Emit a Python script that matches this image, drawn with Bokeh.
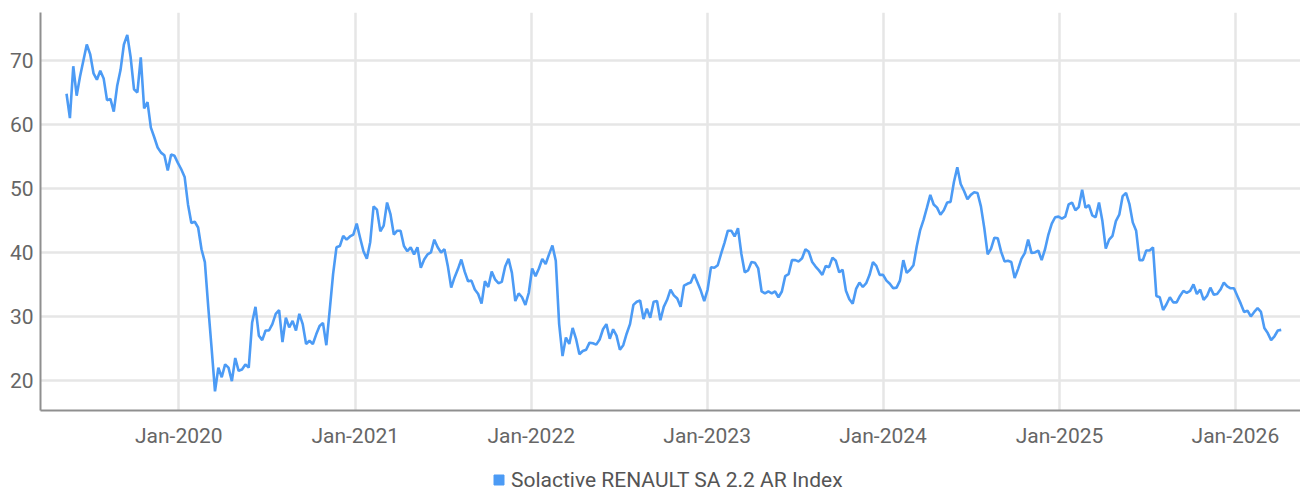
import pandas as pd
from bokeh.plotting import figure
from bokeh.layouts import column
from bokeh.models import (FixedTicker, DatetimeTickFormatter, Legend, LegendItem,
                          Range1d)
from bokeh.embed import file_html
from bokeh.resources import INLINE

SERIES_NAME = "Solactive RENAULT SA 2.2 AR Index"
START_DATE = "2019-05-13"   # first weekly observation

# weekly index levels
values_2019_20 = [
    64.8, 61.0, 69.1, 64.5, 67.5, 70.0, 72.5, 71.0, 68.0, 67.0,
    68.4, 67.2, 63.8, 64.0, 62.0, 66.0, 68.5, 72.5, 74.0, 70.5,
    65.5, 65.0, 70.5, 62.5, 63.5, 59.5, 58.0, 56.4, 55.6, 55.2,
    52.8, 55.3, 55.1, 54.0, 53.0, 51.8, 47.5, 44.6, 44.8, 43.9,
    40.5, 38.5, 31.5, 25.0, 18.3, 22.0, 20.5, 22.5, 22.0, 19.9,
    23.5, 21.5, 21.7, 22.5, 22.0, 29.0, 31.5, 27.0, 26.3, 27.8,
]
values_2020_21 = [
    27.8, 28.8, 30.4, 31.0, 26.0, 29.8, 28.3, 29.3, 27.8, 30.4,
    28.8, 25.7, 26.2, 25.7, 27.2, 28.5, 29.0, 25.5, 31.0, 36.6,
    40.8, 41.0, 42.6, 42.0, 42.5, 42.8, 44.5, 42.3, 40.2, 39.0,
    41.6, 47.2, 46.7, 43.3, 44.2, 47.8, 46.0, 42.8, 43.4, 43.4,
    41.0, 40.2, 40.8, 39.7, 40.8, 37.6, 38.9, 39.7, 40.0, 42.0,
    40.8, 40.0, 40.5, 37.9, 34.5, 36.1, 37.4, 38.9, 37.0, 35.5,
]
values_2021_22 = [
    35.6, 34.2, 33.5, 32.0, 35.5, 34.6, 37.0, 35.8, 35.2, 35.4,
    37.8, 39.0, 36.8, 32.4, 33.6, 33.0, 31.8, 33.7, 37.5, 36.3,
    37.5, 39.0, 38.2, 39.7, 41.1, 38.7, 28.8, 23.8, 26.7, 25.7,
    28.2, 26.5, 24.1, 24.6, 24.8, 25.9, 25.8, 25.6, 26.4, 28.0,
    28.8, 26.5, 28.0, 27.0, 24.8, 25.5, 27.3, 28.8, 31.8, 32.3,
    32.5, 29.6, 31.2, 29.8, 32.3, 32.4, 29.4, 31.5, 32.6, 34.2,
    33.3,
]
values_2022_23 = [
    32.8, 31.5, 34.8, 35.1, 35.3, 36.6, 35.3, 34.0, 32.4, 34.2,
    37.7, 37.6, 38.0, 39.8, 41.5, 43.4, 43.4, 42.5, 43.8, 39.8,
    36.9, 37.2, 38.5, 38.4, 37.5, 33.9, 33.6, 33.9, 33.6, 33.9,
    33.0, 33.9, 36.3, 36.6, 38.8, 38.8, 38.6, 39.1, 40.5, 40.1,
    38.5, 37.8, 37.2, 36.5, 37.9, 37.7, 39.2, 38.7, 36.9, 37.3,
    34.0, 32.7, 32.0, 34.3, 35.3, 34.6, 35.2, 36.5, 38.5, 37.9,
    36.5,
]
values_2024_25 = [
    36.5, 35.6, 35.1, 34.4, 34.5, 35.6, 38.8, 36.8, 37.3, 38.0,
    41.0, 43.5, 45.1, 47.0, 49.0, 47.5, 47.0, 45.9, 46.6, 47.8,
    47.9, 51.0, 53.3, 50.7, 49.6, 48.3, 49.0, 49.4, 49.3, 47.2,
    43.8, 39.7, 40.6, 42.3, 42.2, 40.1, 38.6, 38.7, 38.5, 36.0,
    37.4, 39.0, 39.9, 42.0, 39.9, 40.0, 40.3, 38.8, 40.5, 42.8,
    44.5, 45.5, 45.6, 45.3, 45.6, 47.5, 47.8, 46.6, 47.1, 49.8,
    47.0,
]
values_2025_26 = [
    47.4, 45.8, 45.5, 47.8, 44.9, 40.6, 42.0, 42.6, 44.9, 45.9,
    48.8, 49.3, 47.6, 44.7, 43.4, 38.8, 38.8, 40.3, 40.3, 40.8,
    33.2, 33.0, 31.0, 31.9, 33.0, 32.2, 32.2, 33.2, 34.0, 33.7,
    34.0, 35.0, 33.5, 34.2, 32.6, 33.2, 34.5, 33.4, 33.5, 34.2,
    35.3, 34.7, 34.4, 34.4, 33.2, 32.0, 30.7, 30.9, 30.0, 30.7,
    31.3, 30.7, 28.2, 27.4, 26.3, 26.9, 27.8, 27.9,
]

values = (values_2019_20 + values_2020_21 + values_2021_22 +
          values_2022_23 + values_2024_25 + values_2025_26)
dates = pd.date_range(START_DATE, periods=len(values), freq="7D")

x_tick_dates = ["2020-01-01", "2021-01-01", "2022-01-01", "2023-01-01",
                "2024-01-01", "2025-01-01", "2026-01-01"]
y_ticks = [20, 30, 40, 50, 60, 70]

LINE_COLOR = "#4C9BF5"
GRID_COLOR = "#E6E6E6"
AXIS_COLOR = "#8F8F8F"
TEXT_COLOR = "#666666"
FONT = "Roboto"

p = figure(width=1300, height=458, x_axis_type="datetime",
           output_backend="svg", toolbar_location=None,
           x_range=Range1d(pd.Timestamp("2019-03-20"), pd.Timestamp("2026-05-16")),
           y_range=Range1d(15.3, 77.5),
           min_border_left=40, min_border_right=0,
           min_border_top=12, min_border_bottom=48)

p.line(dates, values, line_color=LINE_COLOR, line_width=2.6)

p.outline_line_color = None
p.background_fill_color = "white"
p.border_fill_color = "white"

# axes
x_ticks_ms = [pd.Timestamp(d).timestamp() * 1000 for d in x_tick_dates]
p.xaxis.ticker = FixedTicker(ticks=x_ticks_ms)
fmt = "%b-%Y"
p.xaxis.formatter = DatetimeTickFormatter(
    microseconds=fmt, milliseconds=fmt, seconds=fmt, minsec=fmt, minutes=fmt,
    hourmin=fmt, hours=fmt, days=fmt, months=fmt, years=fmt)
p.yaxis.ticker = FixedTicker(ticks=y_ticks)

for ax in (p.xaxis, p.yaxis):
    ax.axis_line_color = AXIS_COLOR
    ax.axis_line_width = 2
    ax.major_tick_line_color = None
    ax.minor_tick_line_color = None
    ax.major_label_text_font = FONT
    ax.major_label_text_font_size = "21px"
    ax.major_label_text_color = TEXT_COLOR

p.xaxis.major_label_standoff = 7
p.yaxis.major_label_standoff = 1

p.xgrid.grid_line_color = GRID_COLOR
p.ygrid.grid_line_color = GRID_COLOR
p.xgrid.grid_line_width = 2.5
p.ygrid.grid_line_width = 2.5

# legend strip below the chart (square swatch)
lg = figure(width=1300, height=34, output_backend="svg", toolbar_location=None,
            x_range=Range1d(0, 1), y_range=Range1d(0, 1),
            x_axis_location=None, y_axis_location=None,
            min_border_left=40, min_border_right=0,
            min_border_top=0, min_border_bottom=0)
lg.outline_line_color = None
lg.grid.visible = False
# swatch glyph kept outside the strip's visible range; only its legend icon shows
swatch = lg.scatter(x=[-5], y=[-5], marker="square", color=LINE_COLOR)
legend = Legend(items=[LegendItem(label=SERIES_NAME, renderers=[swatch])],
                location=(446, 0), orientation="horizontal",
                border_line_color=None, background_fill_alpha=0,
                glyph_width=25, glyph_height=25, label_standoff=0,
                padding=0, margin=0, spacing=0,
                label_text_font=FONT, label_text_font_size="21px",
                label_text_color="#555555")
lg.add_layout(legend, "center")

layout = column(p, lg, spacing=0)
open("out.html", "w").write(file_html(layout, INLINE))
